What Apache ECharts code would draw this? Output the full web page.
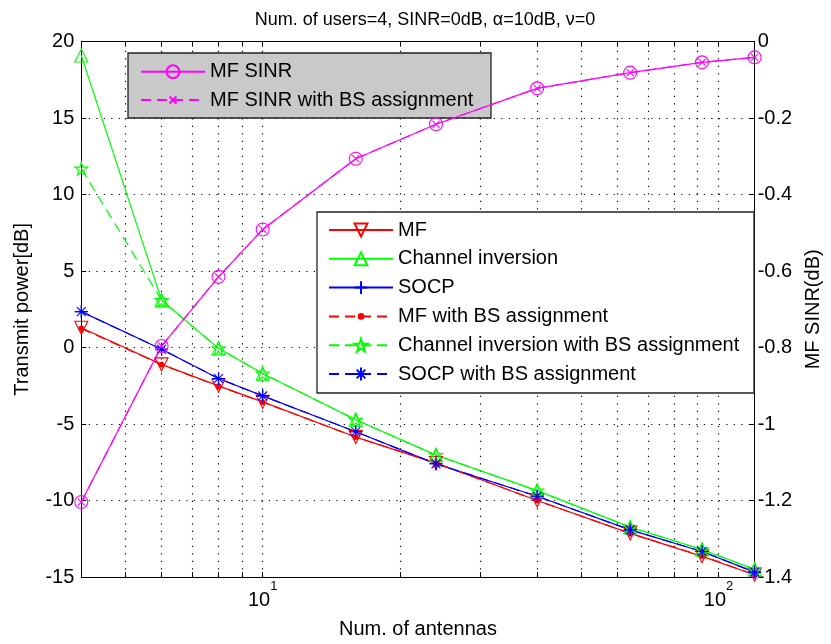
<!DOCTYPE html>
<html><head><meta charset="utf-8">
<script src="https://cdn.jsdelivr.net/npm/echarts@6/dist/echarts.min.js"></script>
<style>html,body{margin:0;padding:0;background:#fff}#c{width:831px;height:644px}</style>
</head><body><div id="c"></div>
<script>
const antennas = [4, 6, 8, 10, 16, 24, 40, 64, 92, 120];
const mfPower = [1.3, -1.1, -2.5, -3.55, -5.85, -7.55, -10.0, -12.15, -13.65, -14.85];
const ciPower = [19.1, 3.1, -0.05, -1.7, -4.72, -7.03, -9.35, -11.74, -13.2, -14.5];
const socpPower = [2.35, -0.11, -2.02, -3.16, -5.5, -7.6, -9.72, -11.92, -13.33, -14.68];
const mfBsPower = [1.25, -1.12, -2.52, -3.57, -5.85, -7.55, -10.0, -12.15, -13.62, -14.85];
const ciBsPower = [11.7, 3.1, -0.05, -1.7, -4.72, -7.03, -9.35, -11.74, -13.2, -14.5];
const socpBsPower = [2.35, -0.11, -2.02, -3.16, -5.5, -7.6, -9.72, -11.92, -13.33, -14.68];
const mfSinr = [-1.204, -0.796, -0.615, -0.491, -0.306, -0.216, -0.122, -0.081, -0.054, -0.041];
const mfSinrBs = [-1.204, -0.796, -0.615, -0.491, -0.306, -0.216, -0.122, -0.081, -0.054, -0.041];
const xGridValues = [5, 6, 7, 8, 9, 10, 20, 30, 40, 50, 60, 70, 80, 90, 100];
const xLabelValues = [10, 100];
const titleText = 'Num. of users=4, SINR=0dB, \u03b1=10dB, \u03bd=0';

const FONT = 'Liberation Sans, Arial, sans-serif';
const pairs = arr => antennas.map((x, i) => [x, arr[i]]);

const SYM = {
  down: 'path://M0,0L10,0L5,9Z',
  up: 'path://M5,0L10,9L0,9Z',
  plus: 'path://M5,0L5,10M0,5L10,5',
  dot: 'path://M0,0L0,0M10,10L10,10M5,3.2A1.8,1.8,0,1,1,5,6.8A1.8,1.8,0,1,1,5,3.2Z',
  star: 'path://M5,0L6.12,3.45L9.76,3.45L6.82,5.59L7.94,9.05L5,6.91L2.06,9.05L3.18,5.59L0.24,3.45L3.88,3.45Z',
  aster: 'path://M5,0L5,10M0,5L10,5M1.6,1.6L8.4,8.4M8.4,1.6L1.6,8.4',
  circle: 'circle',
  cross: 'path://M0,0L0,0M10,10L10,10M2.3,2.3L7.7,7.7M7.7,2.3L2.3,7.7'
};

function mk(name, arr, color, symbol, dashed, opts) {
  opts = opts || {};
  return Object.assign({
    type: 'line', name: name, data: pairs(arr),
    symbol: symbol, symbolSize: opts.size || 13, showSymbol: true,
    lineStyle: {color: color, width: 1.2, type: dashed ? [10, 6] : 'solid'},
    itemStyle: {color: opts.fill || 'rgba(0,0,0,0)', borderColor: color, borderWidth: 1.1},
    emphasis: {disabled: true}, silent: true
  }, opts.extra || {});
}

const dotted = {color: '#000', width: 1.2, type: [1.2, 6.3]};

const series = [
  mk('MF', mfPower, '#ff0000', SYM.down, false, {extra: {
    markLine: {silent: true, z: 1, symbol: ['none', 'none'], label: {show: false},
      lineStyle: dotted, emphasis: {disabled: true}, animation: false,
      data: xGridValues.map(v => ({xAxis: v}))}
  }}),
  mk('Channel inversion', ciPower, '#00ff00', SYM.up, false),
  mk('SOCP', socpPower, '#0000ff', SYM.plus, false),
  mk('MF with BS assignment', mfBsPower, '#ff0000', SYM.dot, true, {fill: '#ff0000'}),
  mk('Channel inversion with BS assignment', ciBsPower, '#00ff00', SYM.star, true),
  mk('SOCP with BS assignment', socpBsPower, '#0000ff', SYM.aster, true),
  mk('MF SINR', mfSinr, '#ff00ff', SYM.circle, false, {extra: {yAxisIndex: 1}}),
  mk('MF SINR with BS assignment', mfSinrBs, '#ff00ff', SYM.cross, true, {extra: {yAxisIndex: 1}})
];

const legendCommon = {
  orient: 'vertical', padding: 0, itemWidth: 64, itemHeight: 16,
  selectedMode: false, z: 4,
  textStyle: {fontSize: 20, fontFamily: FONT, color: '#000'}
};

const chart = echarts.init(document.getElementById('c'), null, {renderer: 'canvas'});
chart.setOption({
  animation: false,
  backgroundColor: '#fff',
  title: {text: titleText, left: 420, top: 6, textAlign: 'center',
    textStyle: {fontSize: 18, fontWeight: 'normal', fontFamily: FONT, color: '#000'}},
  grid: {left: 81.3, right: 68.7, top: 41.7, bottom: 65.7, containLabel: false},
  xAxis: [{
    type: 'log', logBase: 10, min: 4, max: 120, position: 'bottom',
    name: 'Num. of antennas', nameLocation: 'middle', nameGap: 42,
    nameTextStyle: {fontSize: 20, fontFamily: FONT, color: '#000'},
    axisLine: {onZero: false, lineStyle: {color: '#000', width: 1}},
    axisTick: {inside: true, length: 5, customValues: xGridValues, lineStyle: {color: '#000'}},
    axisLabel: {customValues: xLabelValues, margin: 3, color: '#000', fontFamily: FONT,
      formatter: v => '{b|10}{s|' + Math.round(Math.log10(v)) + '}',
      rich: {b: {fontSize: 20, lineHeight: 30, verticalAlign: 'bottom', fontFamily: FONT, color: '#000'},
             s: {fontSize: 13, lineHeight: 30, verticalAlign: 'top', fontFamily: FONT, color: '#000'}}},
    splitLine: {show: false}, minorTick: {show: false}
  }, {
    type: 'log', logBase: 10, min: 4, max: 120, position: 'top',
    axisLine: {onZero: false, lineStyle: {color: '#000', width: 1}},
    axisTick: {inside: true, length: 5, customValues: xGridValues, lineStyle: {color: '#000'}},
    axisLabel: {show: false}, splitLine: {show: false}
  }],
  yAxis: [{
    type: 'value', min: -15, max: 20, interval: 5, position: 'left',
    name: 'Transmit power[dB]', nameLocation: 'middle', nameGap: 49,
    nameTextStyle: {fontSize: 20, fontFamily: FONT, color: '#000'},
    axisLine: {show: true, onZero: false, lineStyle: {color: '#000', width: 1}},
    axisTick: {show: true, inside: true, length: 5, lineStyle: {color: '#000'}},
    axisLabel: {fontSize: 20, fontFamily: FONT, color: '#000', margin: 7},
    splitLine: {show: true, lineStyle: dotted}
  }, {
    type: 'value', min: -1.4, max: 0, interval: 0.2, position: 'right',
    name: 'MF SINR(dB)', nameLocation: 'middle', nameGap: 45,
    nameTextStyle: {fontSize: 20, fontFamily: FONT, color: '#000'},
    axisLine: {show: true, onZero: false, lineStyle: {color: '#000', width: 1}},
    axisTick: {show: true, inside: true, length: 5, lineStyle: {color: '#000'}},
    axisLabel: {fontSize: 20, fontFamily: FONT, color: '#000', margin: 3},
    splitLine: {show: false}
  }],
  legend: [
    Object.assign({}, legendCommon, {data: ['MF SINR', 'MF SINR with BS assignment'],
      left: 140, top: 61.7, itemGap: 8.3}),
    Object.assign({}, legendCommon, {data: ['MF', 'Channel inversion', 'SOCP', 'MF with BS assignment',
      'Channel inversion with BS assignment', 'SOCP with BS assignment'],
      left: 328, top: 220, itemGap: 8.8})
  ],
  graphic: [
    {type: 'rect', z: 3, silent: true, shape: {x: 128, y: 53, width: 363, height: 65},
     style: {fill: '#c9c9c9', stroke: '#222', lineWidth: 1.3}},
    {type: 'rect', z: 3, silent: true, shape: {x: 317, y: 212, width: 437, height: 181},
     style: {fill: '#fff', stroke: '#222', lineWidth: 1.3}}
  ],
  series: series
});
</script></body></html>
